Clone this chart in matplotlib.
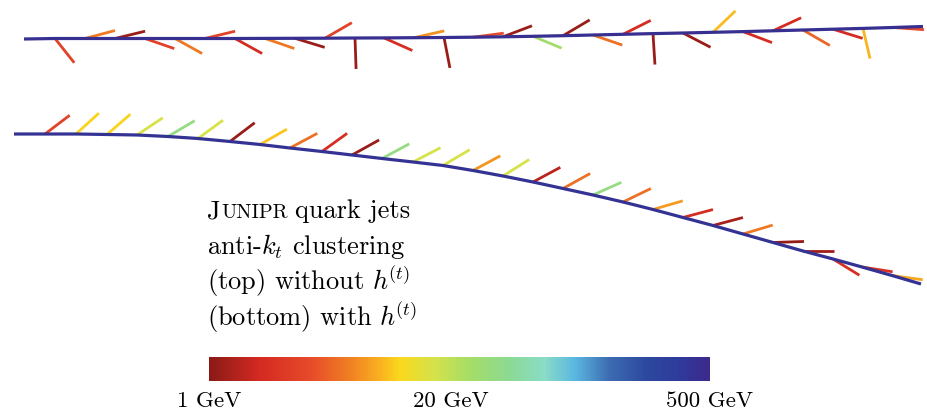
import numpy as np
import matplotlib
matplotlib.use("Agg")
import matplotlib.pyplot as plt
from matplotlib.colors import LinearSegmentedColormap, LogNorm
from matplotlib.cm import ScalarMappable

plt.rcParams['font.family'] = ['cmr10', 'DejaVu Serif']
plt.rcParams['mathtext.fontset'] = 'cm'
plt.rcParams['axes.formatter.use_mathtext'] = True

# ---- data (picture is laid out in pixel units, y pointing down) ----
# top jet: without h(t)
top_start = (24, 39)
top_end = (923, 26.5)
top_x = [55, 85, 115, 145, 175, 205, 235, 265, 295, 325, 355, 384, 414, 444,
         473, 503, 533, 563, 593, 623, 653, 683, 713, 743, 773, 803, 833, 863, 893]
top_y = [38.5, 38.5, 38.5, 38.5, 38.5, 38.5, 38.5, 38.4, 38.3, 38.2, 38.0, 37.9, 37.7, 37.5,
         37.2, 36.8, 36.3, 35.7, 35.0, 34.3, 33.6, 33.0, 32.3, 31.6, 30.8, 30.0, 29.2, 28.4, 27.5]
# emission angle in degrees (positive = upward) and energy in GeV
top_angle = [-51.6, 14.9, 13.6, -19, -29, 13.6, -29, -19, -17, 30, -88, -24, 12.7, -79,
             7.4, 20.8, -22.5, 30.6, -19, 26.6, -86.4, -27.4, 43.7, -20.8, 24.9, -30, -17.2, -76.9, -4]
top_energy = [3.0, 5.4, 1.15, 3.0, 5.4, 3.0, 1.9, 5.4, 1.15, 3.0, 1.15, 2.0, 6.5, 1.15,
              3.5, 1.15, 27, 1.15, 5.0, 1.9, 1.15, 1.15, 9.0, 1.9, 1.9, 4.6, 1.9, 8.5, 3.3]

# bottom jet: with h(t)
bot_start = (14, 134)
bot_end = (921, 284)
bot_x = [45, 76, 107, 137, 168, 198, 230, 260, 290, 322, 352, 382, 413, 443,
         473, 503, 533, 563, 593, 623, 653, 683, 713, 743, 773, 803, 833, 862, 892]
bot_y = [134, 134, 134.5, 135, 136.5, 138.5, 141.5, 144.5, 148, 151.5, 155, 158.5, 162, 165.5,
         170.5, 176, 182, 188.5, 195, 202, 209.5, 217.5, 225.5, 234, 242.5, 251, 259, 267, 275.5]
bot_angle = [37.2, 42.4, 41, 33.7, 30.6, 36.2, 37.2, 29.7, 28.2, 35.8, 29, 28.2, 27.4, 30.6,
             28.2, 32.2, 28.2, 28.9, 24.1, 25.8, 16.2, 14.9, 14.9, 16.7, 1.9, 0, -31.6, -8.9, -7.9]
bot_energy = [3.0, 10.5, 10.5, 16, 35, 16, 1.15, 9.5, 5.0, 2.0, 1.15, 35, 16, 16,
              6.8, 16, 1.5, 5.0, 35, 5.0, 7.0, 2.0, 1.3, 5.4, 1.1, 1.2, 2.1, 2.1, 7.8]

spine_energy = {'top': 430, 'bottom': 400}
e_min, e_max = 1, 500
cbar_labels = [1, 20, 500]

text_lines = ["anti-$k_t$ clustering",
              r"(top) without $h^{\!(t)}$",
              r"(bottom) with $h^{\!(t)}$"]

# colour scale, dark red -> yellow -> green -> blue -> indigo
cmap = LinearSegmentedColormap.from_list("jetlike", [
    (0.00, "#8b1a16"), (0.10, "#d42a22"), (0.20, "#e64a2a"), (0.28, "#f07f22"),
    (0.34, "#f9b020"), (0.38, "#fad81c"), (0.45, "#d4e24a"), (0.52, "#a5de66"),
    (0.60, "#8cd994"), (0.67, "#8adcc6"), (0.73, "#5bb8e0"), (0.80, "#3d6cb2"),
    (0.87, "#2c4a9f"), (0.94, "#2e3a9a"), (1.00, "#3c2a8c")])
norm = LogNorm(vmin=e_min, vmax=e_max)

fig = plt.figure(figsize=(9.27, 4.15), dpi=100)
ax = fig.add_axes([0, 0, 1, 1])
ax.set_xlim(0, 927)
ax.set_ylim(415, 0)
ax.axis('off')

branch_len = 31


def draw_jet(start, end, xs, ys, angles, energies, e_spine):
    xs = np.array(xs, float)
    ys = np.array(ys, float)
    a = np.radians(angles)
    for x0, y0, ai, e in zip(xs, ys, a, energies):
        ax.plot([x0, x0 + branch_len * np.cos(ai)], [y0, y0 - branch_len * np.sin(ai)],
                color=cmap(norm(e)), lw=2.0, solid_capstyle='butt', zorder=2)
    px = np.concatenate([[start[0]], xs, [end[0]]])
    py = np.concatenate([[start[1]], ys, [end[1]]])
    ax.plot(px, py, color=cmap(norm(e_spine)), lw=2.3, solid_capstyle='butt',
            solid_joinstyle='round', zorder=3)


draw_jet(top_start, top_end, top_x, top_y, top_angle, top_energy, spine_energy['top'])
draw_jet(bot_start, bot_end, bot_x, bot_y, bot_angle, bot_energy, spine_energy['bottom'])

# text block
fs = 19
renderer = fig.canvas.get_renderer()
x0, base0, dy = 207, 218, 36
tj = ax.text(x0, base0, "J", fontsize=fs, va='baseline', ha='left')
w = tj.get_window_extent(renderer).width
tu = ax.text(x0 + w + 0.5, base0, "UNIPR", fontsize=fs * 0.77, va='baseline', ha='left')
w2 = tu.get_window_extent(renderer).width
ax.text(x0 + w + 0.5 + w2 + 7, base0, "quark jets", fontsize=fs, va='baseline', ha='left')
for i, s in enumerate(text_lines):
    ax.text(x0, base0 + dy * (i + 1), s, fontsize=fs, va='baseline', ha='left')

# colour bar
cax = fig.add_axes([209 / 927, 1 - 381 / 415, 501 / 927, 24 / 415])
cb = fig.colorbar(ScalarMappable(norm=norm, cmap=cmap), cax=cax, orientation='horizontal')
cb.outline.set_visible(False)
cax.set_xticks([])
cax.minorticks_off()
cax.tick_params(which='both', length=0, labelbottom=False)
for v in cbar_labels:
    cax.text(v, -1.08, f"{v} GeV", transform=cax.get_xaxis_transform(),
             fontsize=16.5, ha='center', va='baseline')

fig.savefig("out.png", dpi=100)
